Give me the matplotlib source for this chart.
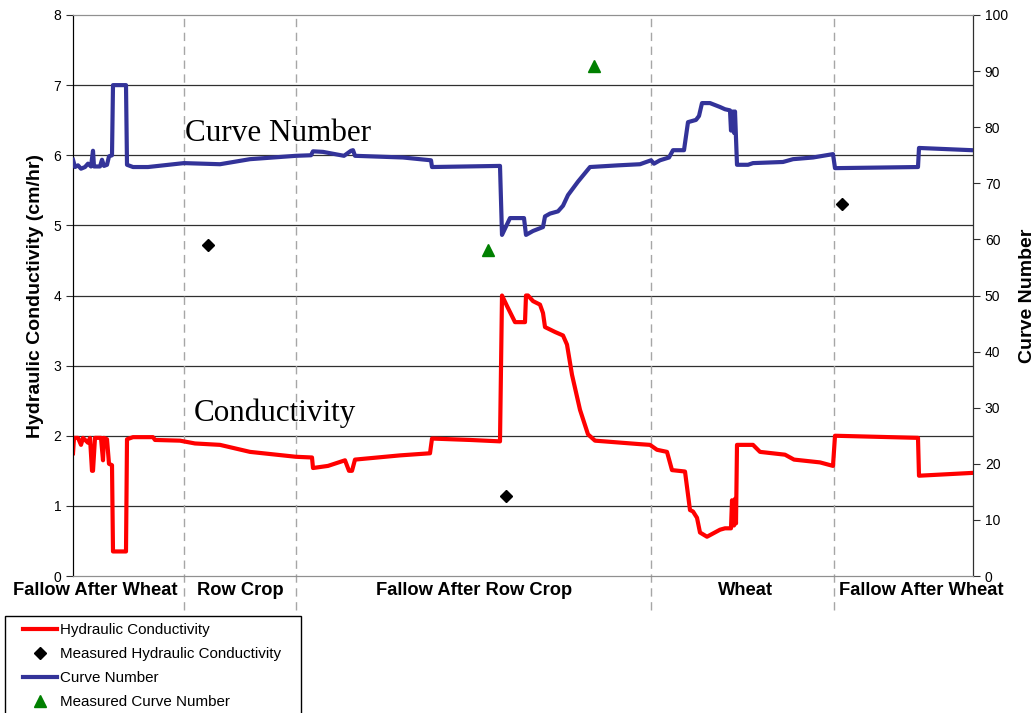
import numpy as np
import matplotlib.pyplot as plt
from matplotlib.lines import Line2D
from matplotlib.patches import Rectangle

plt.rcParams['font.family'] = ['Liberation Sans', 'DejaVu Sans']

# time position along the record (arbitrary units, 0..900)
k_x = [0, 1, 5, 8, 10, 15, 17, 19, 20, 22, 28, 30, 31, 34, 36, 39, 40, 53, 54, 60,
       80, 82, 107, 122, 147, 177, 223, 239, 240, 255, 272, 276, 279, 282, 327, 357,
       359, 397, 427, 429, 434, 442, 452, 453, 455, 460, 467, 470, 472, 482, 490,
       494, 499, 507, 515, 522, 567, 577, 584, 594, 599, 612, 617, 620, 624, 627,
       634, 647, 652, 658, 659, 661, 662, 663, 664, 680, 687, 712, 721, 747, 760,
       762, 845, 846, 899]
k_val = [1.75, 1.97, 1.97, 1.87, 1.97, 1.90, 1.97, 1.50, 1.50, 1.97, 1.97, 1.65, 1.97,
         1.95, 1.60, 1.58, 0.35, 0.35, 1.95, 1.98, 1.98, 1.94, 1.93, 1.89, 1.87, 1.77,
         1.70, 1.69, 1.54, 1.57, 1.65, 1.50, 1.50, 1.66, 1.72, 1.75, 1.96, 1.94, 1.92,
         4.00, 3.85, 3.62, 3.62, 4.00, 4.00, 3.92, 3.87, 3.75, 3.55, 3.48, 3.43, 3.30,
         2.87, 2.37, 2.02, 1.93, 1.88, 1.87, 1.80, 1.77, 1.51, 1.49, 0.94, 0.92, 0.83,
         0.62, 0.56, 0.66, 0.68, 0.68, 1.08, 0.72, 1.10, 0.75, 1.87, 1.87, 1.77, 1.73,
         1.66, 1.62, 1.57, 2.00, 1.97, 1.43, 1.47]

cn_x = [0, 2, 5, 8, 12, 15, 18, 20, 21, 27, 29, 31, 34, 36, 39, 40, 53, 54, 60, 75,
        111, 147, 177, 223, 238, 240, 250, 271, 278, 280, 282, 330, 358, 359, 427,
        429, 437, 451, 453, 460, 470, 472, 477, 485, 490, 495, 505, 517, 545, 567,
        578, 581, 587, 596, 600, 611, 615, 623, 626, 629, 637, 647, 652, 657, 658,
        660, 661, 662, 664, 675, 680, 710, 720, 740, 760, 762, 845, 846, 899]
cn_val = [74.2, 72.9, 73.2, 72.6, 72.9, 73.5, 73.0, 75.8, 73.0, 73.0, 74.2, 73.1, 73.3,
          74.8, 75.0, 87.5, 87.5, 73.3, 72.9, 72.9, 73.6, 73.4, 74.3, 74.9, 75.0, 75.7,
          75.6, 74.9, 75.8, 75.9, 74.9, 74.6, 74.1, 72.9, 73.1, 60.8, 63.8, 63.8, 60.8,
          61.5, 62.2, 64.1, 64.6, 65.0, 66.0, 67.9, 70.3, 72.9, 73.2, 73.4, 74.1, 73.5,
          74.1, 74.6, 75.9, 75.9, 80.9, 81.3, 82.0, 84.3, 84.3, 83.6, 83.2, 83.0, 79.4,
          82.8, 79.0, 82.8, 73.3, 73.3, 73.6, 73.8, 74.3, 74.6, 75.2, 72.7, 72.9, 76.3,
          75.9]

meas_k_x = [135, 433, 769]
meas_k = [4.72, 1.14, 5.31]
meas_cn_x = [415, 521]
meas_cn = [58.1, 90.9]

season_bounds = [111, 223, 578, 761]
seasons = ['Fallow After Wheat', 'Row Crop', 'Fallow After Row Crop', 'Wheat', 'Fallow After Wheat']
season_label_x = [22, 167, 401, 672, 848]

fig = plt.figure(figsize=(10.36, 7.13), dpi=100)
ax = fig.add_axes([73/1036, 1 - 576/713, 900/1036, 561/713])
ax2 = ax.twinx()

ax.set_xlim(0, 900)
ax.set_ylim(0, 8)
ax2.set_ylim(0, 100)
ax.set_yticks(range(0, 9))
ax2.set_yticks(range(0, 101, 10))
ax.set_xticks([])

for y in range(1, 8):
    ax.axhline(y, color='#303030', lw=0.9, zorder=1)
for b in season_bounds:
    ax.axvline(b, ymin=-0.06, ymax=1, color='#a6a6a6', lw=1, ls=(0, (6, 4)),
               clip_on=False, zorder=1)

for sp in ['top', 'bottom']:
    ax.spines[sp].set_color('#909090')
    ax2.spines[sp].set_color('#909090')
ax.spines['left'].set_color('#303030')
ax2.spines['right'].set_color('#303030')

ax.plot(k_x, k_val, color='#ff0000', lw=3, zorder=3, solid_joinstyle='round')
ax.plot(meas_k_x, meas_k, ls='none', marker='D', color='black', ms=6, zorder=4)
ax2.plot(cn_x, cn_val, color='#333399', lw=3, zorder=3, solid_joinstyle='round')
ax2.plot(meas_cn_x, meas_cn, ls='none', marker='^', color='#008000', ms=9, zorder=4)

ax.tick_params(axis='y', labelsize=10, length=5, color='#303030')
ax2.tick_params(axis='y', labelsize=10, length=5, color='#303030')
ax.set_ylabel('Hydraulic Conductivity (cm/hr)', fontsize=14, fontweight='bold', labelpad=6.5)
ax2.set_ylabel('Curve Number', fontsize=14, fontweight='bold', labelpad=8)

for name, lx in zip(seasons, season_label_x):
    ax.text(lx, -0.2, name, ha='center', va='center', fontsize=13.2, fontweight='bold')

ax.text(112, 6.31, 'Curve Number', family='Liberation Serif', fontsize=22.4, va='center')
ax.text(121, 2.32, 'Conductivity', family='Liberation Serif', fontsize=22.4, va='center')

# legend frame runs past the bottom edge, as in the original
fig.patches.append(Rectangle((5/1036, -0.05), 296/1036, 1 - 616/713 + 0.05,
                             transform=fig.transFigure, fill=False, ec='black', lw=1))
handles = [
    Line2D([], [], color='#ff0000', lw=3),
    Line2D([], [], ls='none', marker='D', color='black', ms=6),
    Line2D([], [], color='#333399', lw=3),
    Line2D([], [], ls='none', marker='^', color='#008000', ms=9),
]
labels = ['Hydraulic Conductivity', 'Measured Hydraulic Conductivity',
          'Curve Number', 'Measured Curve Number']
fig.legend(handles, labels, loc='upper left', bbox_to_anchor=(23/1036, 1 - 623/713),
           fontsize=10.9, frameon=False, handlelength=2.25, handletextpad=0.2,
           labelspacing=0.67, borderaxespad=0, borderpad=0, numpoints=1)

fig.savefig('out.png', dpi=100)
